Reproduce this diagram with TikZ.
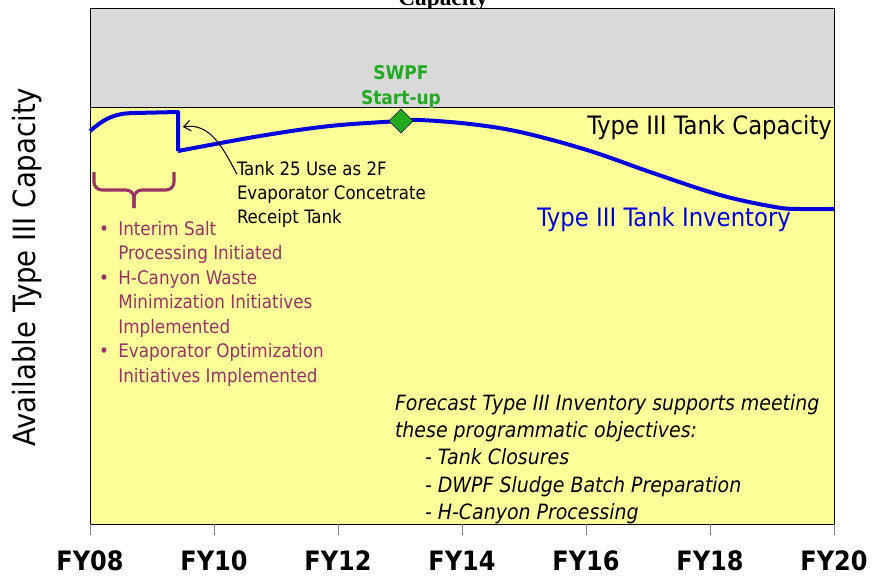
\documentclass[tikz,border=0pt]{standalone}
\usepackage{fontspec}
\setmainfont{DejaVu Sans Condensed}
\newfontfamily\titlefont{Liberation Serif}
\usetikzlibrary{arrows.meta,shapes.geometric}

\definecolor{capgray}{HTML}{D9D9D9}
\definecolor{invyellow}{HTML}{FFFF99}
\definecolor{invblue}{HTML}{0000DD}
\definecolor{swpfgreen}{HTML}{22AA22}
\definecolor{notepurple}{HTML}{993366}

\newcommand{\fsz}[2]{\fontsize{#1}{#2}\selectfont}
\newcommand{\bitem}{\makebox[14.5pt][l]{\textbullet}}
\newcommand{\bcont}{\hspace*{14.5pt}}

\begin{document}
\begin{tikzpicture}[x=0.75pt,y=-0.75pt,
  every node/.style={inner sep=0pt,outer sep=0pt},
  panel/.style={draw=black,line width=0.6pt},
  tick/.style={draw=gray,line width=0.6pt},
  year/.style={font=\fsz{20}{24}\bfseries},
  inventory/.style={draw=invblue,line width=3pt,line join=round},
  bracket/.style={draw=notepurple,line width=2.3pt,rounded corners=6pt},
  note/.style={align=left,font=\fsz{13.85}{18}},
  items/.style={align=left,text=notepurple,font=\fsz{14}{18.4}},
  forecast/.style={align=left,font=\fsz{15.8}{20.6}\itshape},
  to/.style={-{Straight Barb[length=5pt,width=8pt]},thick}]

  \useasboundingbox (0,0) rectangle (885,582);
  \clip (0,0) rectangle (885,582);

  % Title, cut by the top edge
  \node[anchor=base,font=\titlefont\fsz{17.5}{20}\bfseries] (title) at (443,5) {Capacity};

  % Plot area: spare capacity above, Type III capacity below
  \fill[capgray] (90,8) rectangle (834,107);
  \fill[invyellow] (90,107) rectangle (834,524);
  \draw[panel] (90,107) -- (834,107);
  \draw[panel] (90,8) rectangle (834,524);

  % Axis ticks and labels
  \draw[tick] (90,524) -- (90,535);
  \draw[tick] (214,524) -- (214,535);
  \draw[tick] (338,524) -- (338,535);
  \draw[tick] (462,524) -- (462,535);
  \draw[tick] (586,524) -- (586,535);
  \draw[tick] (710,524) -- (710,535);
  \draw[tick] (834,524) -- (834,535);
  \node[year] (fy08) at (90,561) {FY08};
  \node[year] (fy10) at (214,561) {FY10};
  \node[year] (fy12) at (338,561) {FY12};
  \node[year] (fy14) at (462,561) {FY14};
  \node[year] (fy16) at (586,561) {FY16};
  \node[year] (fy18) at (710,561) {FY18};
  \node[year] (fy20) at (834,561) {FY20};
  \node[rotate=90,font=\fsz{23}{26}] (ylabel) at (27,267) {Available Type III Capacity};

  % Inventory curve
  \draw[inventory] (90,131) .. controls (102,121) and (112,113) .. (135,113)
    -- (178,112) -- (178,151)
    plot[smooth,tension=0.6] coordinates {(178,151) (260,136) (330,126) (400,121)
      (420,120) (470,124) (520,132) (587,150) (653,173) (720,195) (775,207)
      (800,209) (834,209)};

  % SWPF start-up marker
  \node[draw=black,thin,fill=swpfgreen,shape=diamond,minimum size=18pt] (swpf) at (401,121) {};
  \node[text=swpfgreen,align=center,font=\fsz{14.2}{19}\bfseries] (swpflbl) at (401,87) {SWPF\\Start-up};

  % Curve labels
  \node[anchor=north east,font=\fsz{19}{22}] (caplbl) at (832,115) {Type III Tank Capacity};
  \node[anchor=north west,text=invblue,font=\fsz{19}{22}] (invlbl) at (537,207) {Type III Tank Inventory};

  % Tank 25 note
  \coordinate (step) at (183,127);
  \node[note,anchor=north west] (tank25) at (237,161) {Tank 25 Use as 2F\\Evaporator Concetrate\\Receipt Tank};
  \draw[to] ([yshift=-10pt]tank25.north west) to[out=118,in=10] (step);

  % Early initiatives
  \draw[bracket] (94,172) -- (94,190) -- (134,190) -- (134,208);
  \draw[bracket] (174,172) -- (174,190) -- (134,190) -- (134,208);
  \node[items,anchor=north west] (initiatives) at (99,221) {\bitem Interim Salt\\
    \bcont Processing Initiated\\
    \bitem H-Canyon Waste\\
    \bcont Minimization Initiatives\\
    \bcont Implemented\\
    \bitem Evaporator Optimization\\
    \bcont Initiatives Implemented};

  % Forecast objectives
  \node[forecast,anchor=north west] (objectives) at (395,394) {Forecast Type III Inventory supports meeting\\
    these programmatic objectives:\\
    \hspace*{22.5pt}- Tank Closures\\
    \hspace*{22.5pt}- DWPF Sludge Batch Preparation\\
    \hspace*{22.5pt}- H-Canyon Processing};
\end{tikzpicture}
\end{document}
